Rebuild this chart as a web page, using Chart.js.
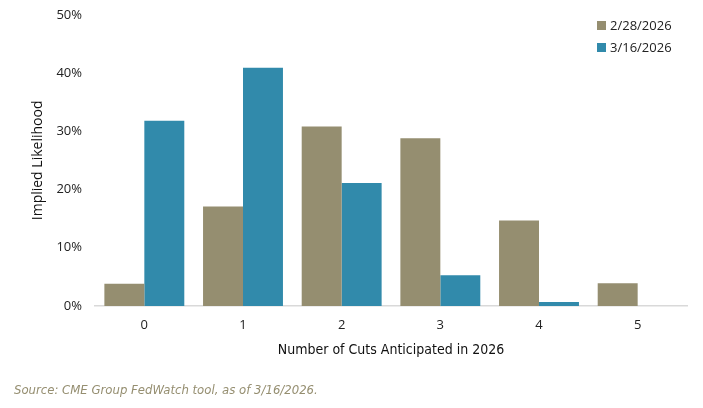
<!DOCTYPE html>
<html>
<head>
<meta charset="utf-8">
<script src="https://cdn.jsdelivr.net/npm/chart.js@4"></script>
<style>
  html, body { margin: 0; padding: 0; background: #fff; overflow: hidden; }
  #wrap { position: relative; width: 703px; height: 408px; overflow: hidden; }
  #chart { position: absolute; left: 0; top: -6px; }
  #legend { position: absolute; left: 597px; top: 14px; font: 13px "Open Sans", sans-serif; color: #222; }
  #legend div { display: flex; align-items: center; height: 22px; }
  #legend span.box { width: 9px; height: 9px; margin-right: 4px; display: inline-block; }
  #source { position: absolute; left: 14px; top: 382px; font: italic 13px "DejaVu Sans Condensed", "Liberation Sans Narrow", sans-serif; color: #958e70; }
</style>
</head>
<body>
<div id="wrap">
  <canvas id="chart" width="703" height="414"></canvas>
  <div id="legend"></div>
  <div id="source">Source: CME Group FedWatch tool, as of 3/16/2026.</div>
</div>
<script>
const categories = ['0', '1', '2', '3', '4', '5'];
const seriesNames = ['2/28/2026', '3/16/2026'];
const feb28 = [3.8, 17.1, 30.8, 28.8, 14.7, 3.9];
const mar16 = [31.8, 40.9, 21.1, 5.3, 0.7, 0];
const colors = ['#958e70', '#318aab'];

const chart = new Chart(document.getElementById('chart'), {
  type: 'bar',
  data: {
    labels: categories,
    datasets: [
      { label: seriesNames[0], data: feb28, backgroundColor: colors[0] },
      { label: seriesNames[1], data: mar16, backgroundColor: colors[1] }
    ]
  },
  options: {
    responsive: false,
    animation: false,
    devicePixelRatio: 1,
    layout: { padding: { top: 0, right: 16, bottom: 40, left: 0 } },
    datasets: { bar: { categoryPercentage: 0.81, barPercentage: 1 } },
    plugins: { legend: { display: false }, tooltip: { enabled: false } },
    scales: {
      x: {
        afterFit: s => { s.height = 62; },
        grid: { display: false, drawTicks: false },
        border: { display: true, color: '#d9d9d9', width: 1.5 },
        ticks: { padding: 11, color: '#222', font: { family: 'Open Sans', size: 13 } },
        title: {
          display: true,
          text: 'Number of Cuts Anticipated in 2026',
          color: '#111',
          font: { family: 'DejaVu Sans Condensed', size: 14 },
          padding: { top: 0, bottom: 9 }
        }
      },
      y: {
        min: 0, max: 50,
        afterFit: s => { s.width = 95; },
        grid: { display: false, drawTicks: false },
        border: { display: false },
        ticks: {
          stepSize: 10, padding: 13, color: '#222',
          font: { family: 'Open Sans', size: 13 },
          callback: v => v + '%'
        },
        title: {
          display: true,
          text: 'Implied Likelihood',
          color: '#111',
          font: { family: 'Open Sans', size: 14 },
          padding: { top: 30, bottom: 0 }
        }
      }
    }
  }
});

// legend built from the chart's datasets
const legend = document.getElementById('legend');
chart.data.datasets.forEach(ds => {
  const row = document.createElement('div');
  row.innerHTML = `<span class="box" style="background:${ds.backgroundColor}"></span>${ds.label}`;
  legend.appendChild(row);
});
</script>
</body>
</html>
